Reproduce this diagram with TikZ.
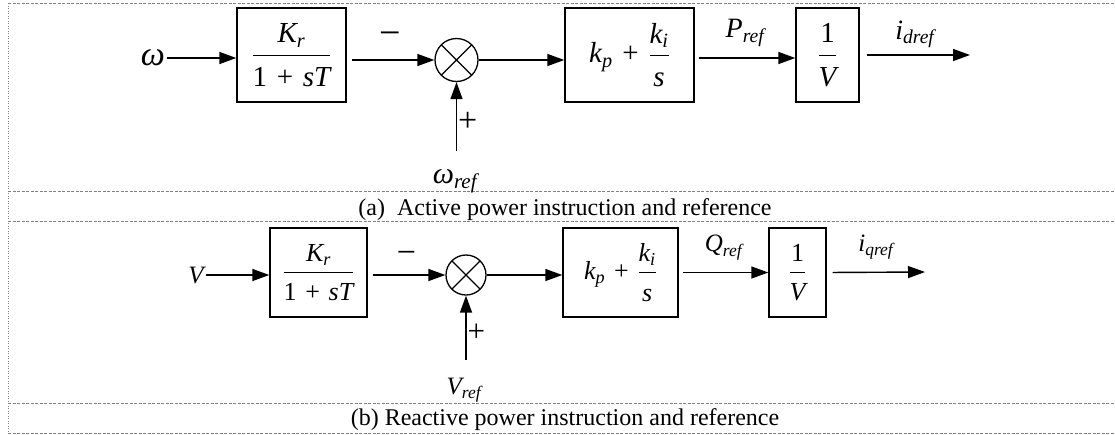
\RequirePackage{fix-cm}
\documentclass[tikz,border=0pt]{standalone}
\usepackage{amsmath}
\usepackage{fontspec}
\setmainfont{Liberation Serif}
\usepackage{tikz}
\usetikzlibrary{positioning, arrows.meta}

\newcommand{\mv}[1]{\textit{#1}}
\newcommand{\dnstrut}{\rule{0pt}{0.95em}}
\newcommand{\wplus}{\mathbin{\mkern2mu\text{+}\mkern2mu}}

\begin{document}
\begin{tikzpicture}[
		x=1pt, y=-1pt,
		blk/.style={rectangle, draw, line width=1.4pt, inner sep=0pt},
		sumnode/.style={circle, draw, line width=1.3pt, inner sep=0pt, path picture={
				\draw[line width=1.3pt] (path picture bounding box.north west) -- (path picture bounding box.south east)
				(path picture bounding box.north east) -- (path picture bounding box.south west);}},
		arrow/.style={-{Triangle[length=17pt, width=12pt]}, line width=1.4pt},
		sa/.style={font=\fontsize{29}{33}\selectfont},
		sb/.style={font=\fontsize{26}{30}\selectfont},
		la/.style={font=\fontsize{28}{32}\selectfont},
		lb/.style={font=\fontsize{25}{29}\selectfont},
		minus/.style={font=\fontsize{38}{40}\selectfont, inner sep=0pt},
		plus/.style={font=\fontsize{34}{36}\selectfont, inner sep=1pt},
		refnode/.style={inner sep=0pt, outer ysep=18pt},
		frame/.style={gray, line width=0.8pt, dash pattern=on 3pt off 1.5pt},
		side/.style={gray, line width=0.8pt, dash pattern=on 1pt off 1.5pt},
		caption/.style={font=\fontsize{24}{28}\selectfont, inner sep=0pt}
		]

		\useasboundingbox (0,0) rectangle (1115,434);

		% frame
		\foreach \yy in {3,191,221,403,433}
			\draw[frame] (8,\yy) -- (1115,\yy);
		\draw[side] (8,3) -- (8,434);

		% (a) active power
		\node[font=\fontsize{34}{38}\selectfont, inner sep=2pt] (w) at (153,58) {$\mv{ω}$};
		\node[blk, sa, minimum width=109pt, minimum height=94pt] (kra) at (291.5,55) {$\dfrac{\mv{K}_{\mv{r}}}{\text{1}\wplus\mv{sT}\dnstrut}$};
		\node[sumnode, minimum size=43pt] (suma) at (456.5,60) {};
		\node[blk, sa, minimum width=129pt, minimum height=94pt] (pia) at (629.5,55) {$\mv{k}_{\mv{p}}\wplus\dfrac{\mv{k}_{\mv{i}}}{\mv{s}\dnstrut}$};
		\node[blk, sa, minimum width=63pt, minimum height=94pt] (inva) at (827.5,55) {$\dfrac{\text{1}}{\mv{V}\dnstrut}$};
		\node[font=\fontsize{30}{34}\selectfont, refnode] (wrefa) at (455,181) {$\mv{ω}_{\mv{ref}}$};
		\coordinate (outa) at (970,55);

		\draw[arrow] (w) -- (w -| kra.west);
		\draw[arrow, shorten <=5pt] (kra.east |- suma) -- (suma) node[minus, midway, yshift=21pt] {−};
		\draw[arrow] (suma |- wrefa.north) -- (suma) node[plus, pos=0.42, right] {+};
		\draw[arrow] (suma) -- (suma -| pia.west);
		\draw[arrow, shorten <=4pt] ([yshift=-3pt]pia.east) -- ([yshift=-3pt]inva.west) node[la, midway, yshift=25pt] {$\mv{P}_{\mv{ref}}$};
		\draw[arrow, shorten <=7pt] (inva.east) -- (outa) node[la, midway, yshift=21pt] {$\mv{i}_{\mv{dref}}$};

		\node[caption] (capa) at (565,210) {(a)\ \ Active power instruction and reference};

		% (b) reactive power
		\node[font=\fontsize{25}{29}\selectfont, inner sep=2pt] (v) at (196,275) {$\mv{V}$};
		\node[blk, sb, minimum width=97pt, minimum height=89pt] (krb) at (318.5,272.5) {$\dfrac{\mv{K}_{\mv{r}}}{\text{1}\wplus\mv{sT}\dnstrut}$};
		\node[sumnode, minimum size=40pt] (sumb) at (466,275) {};
		\node[blk, sb, minimum width=115pt, minimum height=89pt] (pib) at (620.5,272.5) {$\mv{k}_{\mv{p}}\wplus\dfrac{\mv{k}_{\mv{i}}}{\mv{s}\dnstrut}$};
		\node[blk, sb, minimum width=57pt, minimum height=89pt] (invb) at (797.5,272.5) {$\dfrac{\text{1}}{\mv{V}\dnstrut}$};
		\node[font=\fontsize{25}{29}\selectfont, refnode] (vrefb) at (464,390) {$\mv{V}_{\mv{ref}}$};
		\coordinate (outb) at (925,272);

		\draw[arrow] (v) -- (v -| krb.west);
		\draw[arrow, shorten <=5pt] (krb.east |- sumb) -- (sumb) node[minus, font=\fontsize{34}{36}\selectfont, midway, yshift=18pt] {−};
		\draw[arrow] (sumb |- vrefb.north) -- (sumb) node[plus, font=\fontsize{31}{33}\selectfont, pos=0.42, right] {+};
		\draw[arrow] (sumb) -- (sumb -| pib.west);
		\draw[arrow, shorten <=4pt] (pib.east) -- (invb.west) node[lb, midway, yshift=25pt] {$\mv{Q}_{\mv{ref}}$};
		\draw[arrow, shorten <=6pt] (invb.east) -- (outb) node[lb, midway, yshift=25pt] {$\mv{i}_{\mv{qref}}$};

		\node[caption] (capb) at (565,420) {(b) Reactive power instruction and reference};
	\end{tikzpicture}
\end{document}
